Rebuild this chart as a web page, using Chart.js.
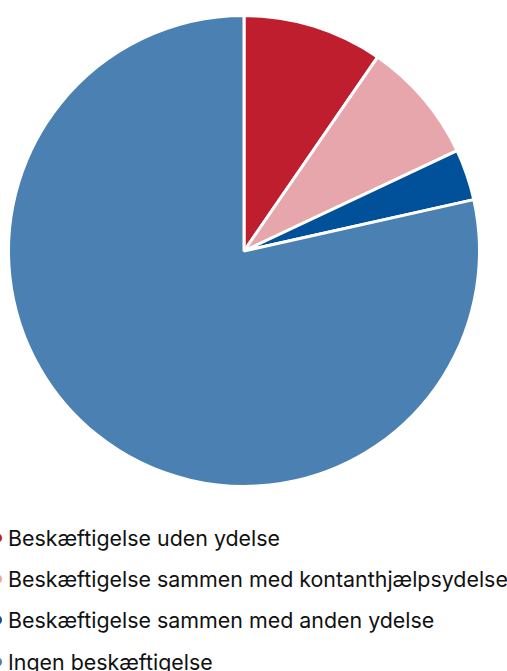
<!DOCTYPE html>
<html>
<head>
<meta charset="utf-8">
<script src="https://cdn.jsdelivr.net/npm/chart.js@4/dist/chart.umd.min.js"></script>
<style>
  html, body { margin: 0; padding: 0; background: #fff; overflow: hidden; }
  #wrap { position: relative; width: 507px; height: 500px; }
  #legend { position: absolute; top: 517px; left: -8px; font-family: Inter, sans-serif; font-size: 21.4px; color: #111; }
  .item { display: flex; align-items: center; height: 41.3px; white-space: nowrap; }
  .dot { width: 10px; height: 10px; border-radius: 50%; margin-right: 6px; flex: none; }
</style>
</head>
<body>
<div id="wrap"><canvas id="pie"></canvas></div>
<div id="legend"></div>
<script>
'use strict';

// ─── DATA ────────────────────────────────────────────────────────────────────

const labels = [
  'Beskæftigelse uden ydelse',
  'Beskæftigelse sammen med kontanthjælpsydelse',
  'Beskæftigelse sammen med anden ydelse',
  'Ingen beskæftigelse',
];
const values = [9.6, 8.4, 3.5, 78.5];
const colors = ['#be1e2d', '#e6a6ab', '#00509a', '#4a80b2'];

// ─── PIE ─────────────────────────────────────────────────────────────────────

new Chart(document.getElementById('pie'), {
  type: 'pie',
  data: {
    labels,
    datasets: [{
      data:            values,
      backgroundColor: colors,
      borderColor:     '#ffffff',
      borderWidth:     3,
    }],
  },
  options: {
    responsive:          true,
    maintainAspectRatio: false,
    animation:           false,
    layout: { padding: { top: 14, bottom: 12, left: 7, right: 26 } },
    plugins: {
      legend:  { display: false },
      tooltip: { enabled: false },
    },
  },
});

// ─── LEGEND ──────────────────────────────────────────────────────────────────

document.getElementById('legend').innerHTML = labels.map((l, i) => `
  <div class="item"><span class="dot" style="background:${colors[i]}"></span>${l}</div>
`).join('');
</script>
</body>
</html>
